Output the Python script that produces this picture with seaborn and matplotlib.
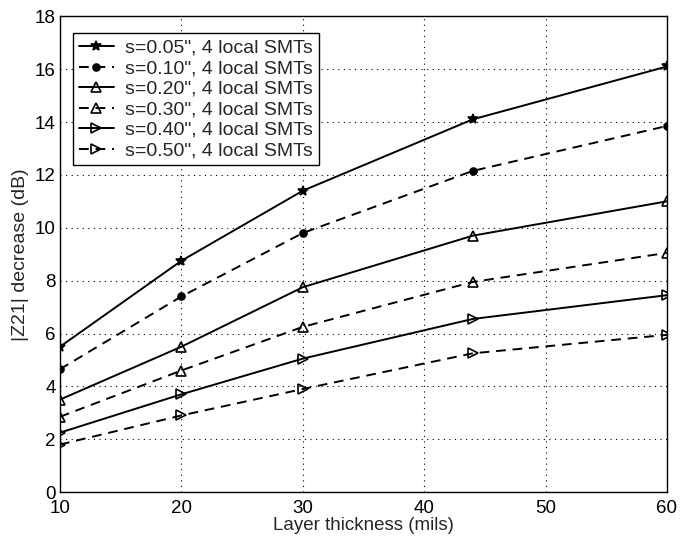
import numpy as np
import pandas as pd
import matplotlib
matplotlib.use('Agg')
import matplotlib.pyplot as plt
import seaborn as sns

# data
thickness = [10, 20, 30, 44, 60]
labels = ['s=0.05", 4 local SMTs', 's=0.10", 4 local SMTs', 's=0.20", 4 local SMTs',
          's=0.30", 4 local SMTs', 's=0.40", 4 local SMTs', 's=0.50", 4 local SMTs']
s005 = [5.5, 8.75, 11.4, 14.1, 16.1]
s010 = [4.65, 7.4, 9.8, 12.15, 13.85]
s020 = [3.5, 5.5, 7.75, 9.7, 11.0]
s030 = [2.85, 4.6, 6.25, 7.95, 9.05]
s040 = [2.25, 3.7, 5.05, 6.55, 7.45]
s050 = [1.8, 2.9, 3.9, 5.25, 5.95]
series = [s005, s010, s020, s030, s040, s050]

dash = (0, (5, 3.5))
styles = [('-', '*', 'k'), (dash, 'o', 'k'), ('-', '^', 'none'),
          (dash, '^', 'none'), ('-', '>', 'none'), (dash, '>', 'none')]

sns.set_style('white')
plt.rcParams['font.family'] = ['Liberation Sans', 'DejaVu Sans']

fig = plt.figure(figsize=(6.89, 5.42), dpi=100)
ax = fig.add_axes([0.087, 0.092, 0.881, 0.878])

for vals, lab, (ls, mk, fc) in zip(series, labels, styles):
    df = pd.DataFrame({'x': thickness, 'y': vals})
    sns.lineplot(data=df, x='x', y='y', ax=ax, color='k', linewidth=1.4,
                 marker=mk, markersize=7 if mk != 'o' else 5, markerfacecolor=fc,
                 markeredgecolor='k', markeredgewidth=1.2, label=lab)
    ax.lines[-1].set_linestyle(ls)

ax.set_xlim(10, 60)
ax.set_ylim(0, 18)
ax.set_xticks([10, 20, 30, 40, 50, 60])
ax.set_yticks(np.arange(0, 19, 2))
ax.grid(True, linestyle=(0, (1, 4)), color='k', linewidth=0.8)
ax.tick_params(direction='in', length=5, labelsize=13.5, colors='k', pad=3)
ax.tick_params(axis='x', pad=6)
for sp in ax.spines.values():
    sp.set_color('k')
    sp.set_linewidth(1.0)
ax.set_xlabel('Layer thickness (mils)', fontsize=13.5, labelpad=0)
ax.set_ylabel('|Z21| decrease (dB)', fontsize=14, labelpad=4)

leg = ax.legend(loc='upper left', bbox_to_anchor=(0.021, 0.964), borderaxespad=0,
                fontsize=14, frameon=True, fancybox=False,
                edgecolor='k', framealpha=1, handlelength=1.8,
                labelspacing=0.15, borderpad=0.3, handletextpad=0.6)
leg.get_frame().set_linewidth(1.0)
# refresh legend handle styles to match the lines
for h, (ls, mk, fc) in zip(leg.get_lines(), styles):
    h.set_linestyle(ls)

fig.savefig('out.png', dpi=100)
